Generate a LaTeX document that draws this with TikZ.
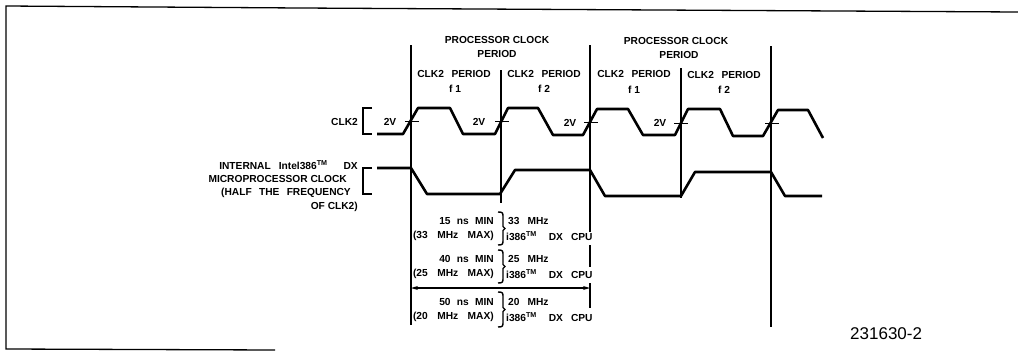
\documentclass[tikz,border=0pt]{standalone}
\usepackage{fontspec}
\setmainfont{Liberation Sans}
\usetikzlibrary{arrows.meta}
\tikzset{
  x=1pt,y=-1pt,
  sig/.style={line width=2.6pt,line join=round},
  vline/.style={line width=1.2pt},
  brk/.style={line width=2pt},
  tick/.style={line width=1pt},
  frame/.style={line width=1.3pt},
  lab/.style={font=\bfseries\fontsize{10.2}{12}\selectfont,inner sep=0pt,anchor=center},
  labr/.style={lab,anchor=east},
  labl/.style={lab,anchor=west},
  dim/.style={line width=1.3pt,{Stealth[length=7pt,width=4pt]}-{Stealth[length=7pt,width=4pt]}}
}
\newcommand{\TMk}{\textsuperscript{TM}}
\newcommand{\ws}[1]{\spaceskip=#1\relax}
\spaceskip=5.6pt
\begin{document}
\begin{tikzpicture}
\useasboundingbox (0,0) rectangle (1018,351);
% frame (open at the right and along most of the bottom, as in the scan)
\draw[frame] (1018,12) -- (300,8) -- (6,6) -- (6,349) -- (275,350);
% vertical reference lines
\coordinate (v1t) at (411,45);  \coordinate (v1b) at (411,325);
\coordinate (v2t) at (501,70);  \coordinate (v2b) at (501,203);
\coordinate (v3t) at (590,45);  \coordinate (v3b) at (590,308);
\coordinate (v4t) at (681,68);  \coordinate (v4b) at (681,198);
\coordinate (v5t) at (771,46);  \coordinate (v5b) at (771,327);
\coordinate (v3x) at (590,232); \coordinate (v3y) at (590,245);
\coordinate (v3z) at (590,267); \coordinate (v3w) at (590,283);
\draw[vline] (v1t) -- (v1b);
\draw[vline] (v2t) -- (v2b);
\draw[vline] (v3t) -- (v3x) (v3y) -- (v3z) (v3w) -- (v3b);
\draw[vline] (v4t) -- (v4b);
\draw[vline] (v5t) -- (v5b);
% CLK2
\draw[sig] (377,134) -- (403,134) -- (418,108) -- (450,108) -- (463,134) -- (495,134) -- (508,108)
  -- (538,108) -- (553,135) -- (583,135) -- (597,109) -- (628,109) -- (643,135) -- (675,135)
  -- (688,109) -- (720,109) -- (733,136) -- (763,136) -- (778,110) -- (808,110) -- (823,138);
% internal clock
\draw[sig] (377,168) -- (411,168) -- (427,194) -- (500,194) -- (515,170) -- (590,170) -- (605,196)
  -- (681,196) -- (695,172) -- (771,172) -- (785,196) -- (822,196);
% brackets
\draw[brk] (372,108) -- (363,108) -- (363,134) -- (372,134);
\draw[brk] (372,168) -- (363,168) -- (363,194) -- (372,194);
% 2V ticks
\foreach \tx/\ty in {412/121,502/121,591/122,681/123,772/123}
  \draw[tick] (\tx-7,\ty) -- (\tx+7,\ty);
% period labels
\node[lab] (p1a) at (497,40) {PROCESSOR CLOCK};
\node[lab] (p1b) at (497,54) {PERIOD};
\node[lab] (p2a) at (676,41) {PROCESSOR CLOCK};
\node[lab] (p2b) at (679,55) {PERIOD};
\node[lab] (c1) at (454,74) {\ws{7.6pt}CLK2 PERIOD};
\node[lab] (f1) at (455,89) {f 1};
\node[lab] (c2) at (544,74) {\ws{7.6pt}CLK2 PERIOD};
\node[lab] (f2) at (544,89) {f 2};
\node[lab] (c3) at (634,74) {\ws{7.6pt}CLK2 PERIOD};
\node[lab] (f3) at (634,90) {f 1};
\node[lab] (c4) at (724,75) {\ws{7.6pt}CLK2 PERIOD};
\node[lab] (f4) at (724,90) {f 2};
% 2V
\node[lab] (v2a) at (390,122) {2V};
\node[lab] (v2e) at (479,122) {2V};
\node[lab] (v2c) at (570,123) {2V};
\node[lab] (v2d) at (660,123) {2V};
% left labels
\node[labr] (clk) at (358,122) {CLK2};
\node[labr] (i1) at (358,165) {\ws{8pt}INTERNAL Intel386\TMk\hspace{8pt}{} DX};
\node[labr] (i2) at (347,179) {MICROPROCESSOR CLOCK};
\node[labr] (i3) at (351,193) {\ws{7.3pt}(HALF THE FREQUENCY};
\node[labr] (i4) at (358,207) {OF CLK2)};
% timing labels
\node[labr] (t1) at (494,221) {\ws{6.3pt}15 ns MIN};
\node[labr] (t2) at (494,236) {\ws{9.5pt}(33 MHz MAX)};
\node[labr] (t3) at (494,259) {\ws{6.3pt}40 ns MIN};
\node[labr] (t4) at (494,274) {\ws{9.5pt}(25 MHz MAX)};
\node[labr] (t5) at (494,302) {\ws{6.3pt}50 ns MIN};
\node[labr] (t6) at (494,317) {\ws{9.5pt}(20 MHz MAX)};
\foreach \ya/\yb in {212/245,250/283,292/327}{
  \draw[line width=1.4pt] (498,\ya) .. controls (503,\ya) and (503,\ya+1) .. (503,\ya+5) -- (503,{(\ya+\yb)/2-2})
    -- (505,{(\ya+\yb)/2}) -- (503,{(\ya+\yb)/2+2}) -- (503,\yb-5) .. controls (503,\yb-1) and (503,\yb) .. (498,\yb);
}
\node[labl] (m1) at (508,221) {\ws{8pt}33 MHz};
\node[labl] (n1) at (506,236) {\ws{8pt}i386\TMk\hspace{4pt}{} DX CPU};
\node[labl] (m2) at (508,259) {\ws{8pt}25 MHz};
\node[labl] (n2) at (506,274) {\ws{8pt}i386\TMk\hspace{4pt}{} DX CPU};
\node[labl] (m3) at (508,302) {\ws{8pt}20 MHz};
\node[labl] (n3) at (506,317) {\ws{8pt}i386\TMk\hspace{4pt}{} DX CPU};
% dimension arrow
\coordinate (aL) at (411,288);
\coordinate (aR) at (590,288);
\draw[dim] (aL) -- (aR);
% figure number
\node[labl,font=\fontsize{17}{19}\selectfont] (fig) at (850,334) {231630-2};
\end{tikzpicture}
\end{document}
